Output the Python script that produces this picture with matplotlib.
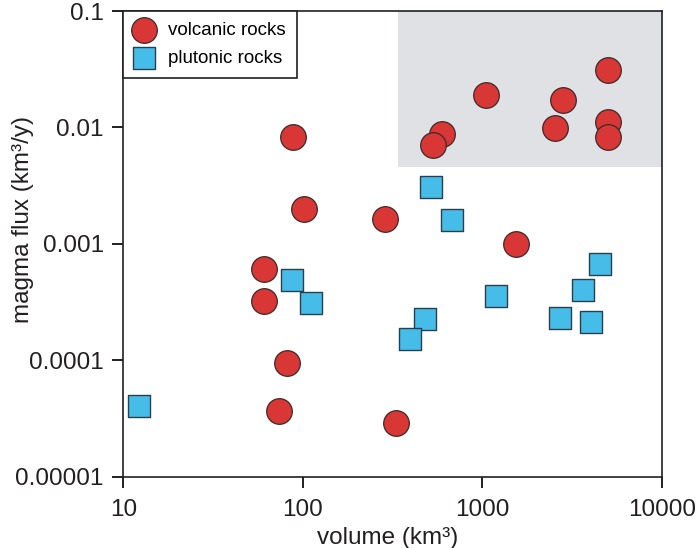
import numpy as np
import matplotlib
matplotlib.use("Agg")
import matplotlib.pyplot as plt
from matplotlib.patches import Rectangle

plt.rcParams['font.family'] = ['Liberation Sans', 'DejaVu Sans']

# volcanic rocks (km3, km3/y)
volc_volume = [88.5, 101, 61, 61, 82, 74, 600, 533, 1050, 2830, 2550,
               5000, 5000, 5000, 289, 1540, 330]
volc_flux = [0.0082, 0.0020, 0.00061, 0.00032, 0.000095, 0.000037,
             0.0087, 0.0071, 0.019, 0.0173, 0.0098, 0.031, 0.0112,
             0.0082, 0.00162, 0.0010, 0.0000287]

# plutonic rocks
plut_volume = [12.3, 87.4, 111, 516, 678, 4530, 3660, 1200, 481, 397,
               2720, 4020]
plut_flux = [0.0000405, 0.00049, 0.00031, 0.0031, 0.00161, 0.00067,
             0.00040, 0.00036, 0.000226, 0.000152, 0.000233, 0.000212]

# shaded field (upper right)
box_x = [340, 10000]
box_y = [0.0046, 0.1]

fig = plt.figure(figsize=(6.97, 5.48), dpi=100)
ax = fig.add_axes([0.1769, 0.1301, 0.7725, 0.8498])

ax.set_xscale('log')
ax.set_yscale('log')
ax.set_xlim(10, 10000)
ax.set_ylim(0.00001, 0.1)

ax.add_patch(Rectangle((box_x[0], box_y[0]), box_x[1] - box_x[0],
                       box_y[1] - box_y[0], facecolor='#e0e1e5',
                       edgecolor='none', zorder=0))

ax.scatter(volc_volume, volc_flux, s=340, marker='o', c='#d93636',
           edgecolors='#3a2a2a', linewidths=0.9, label='volcanic rocks',
           zorder=3)
ax.scatter(plut_volume, plut_flux, s=235, marker='s', c='#45bde8',
           edgecolors='#2a3f4a', linewidths=1.0, label='plutonic rocks',
           zorder=3)

ax.set_xticks([10, 100, 1000, 10000])
ax.set_xticklabels(['10', '100', '1000', '10000'])
ax.set_yticks([0.00001, 0.0001, 0.001, 0.01, 0.1])
ax.set_yticklabels(['0.00001', '0.0001', '0.001', '0.01', '0.1'])
ax.minorticks_off()
ax.tick_params(axis='both', which='major', direction='out', length=8,
               width=1.4, color='#231f20', labelsize=17.5, pad=6,
               labelcolor='#231f20')
ax.tick_params(axis='x', pad=8)

for s in ax.spines.values():
    s.set_linewidth(1.2)
    s.set_color('#231f20')

ax.set_xlabel('volume (km³)', fontsize=17.5, color='#231f20')
ax.set_ylabel('magma flux (km³/y)', fontsize=17.5, color='#231f20')
ax.xaxis.set_label_coords(0.49, -0.108)
ax.yaxis.set_label_coords(-0.166, 0.553)

leg = ax.legend(loc='upper left', borderaxespad=0, fancybox=False,
                frameon=True, fontsize=13.5, handletextpad=0.8,
                borderpad=0.6, labelspacing=0.55, handlelength=1.0)
leg.get_frame().set_edgecolor('#231f20')
leg.get_frame().set_linewidth(1.2)
leg.get_frame().set_alpha(1)

fig.savefig('out.png', dpi=100)
